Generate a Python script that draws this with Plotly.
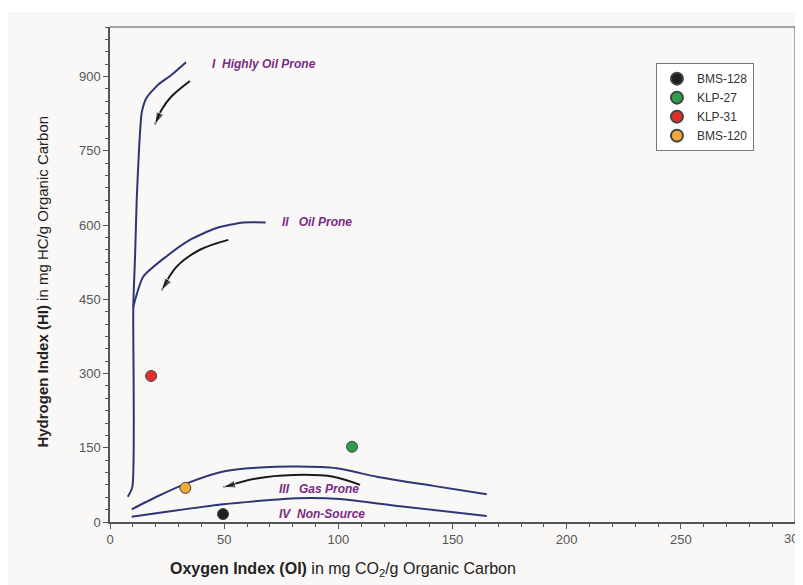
import plotly.graph_objects as go

# Kerogen type curves (OI, HI)
type1_x = [7.8, 9.8, 10.2, 11.0, 11.7, 12.8, 13.9, 16.0, 21.2, 26.3, 33.3]
type1_y = [51, 71, 435, 540, 651, 760, 827, 857, 884, 901, 929]
type2_x = [10.2, 14.6, 24.8, 35.0, 46.7, 58.4, 68.2]
type2_y = [435, 496, 537, 570, 594, 605, 605]
type3_x = [9.5, 20.4, 33.6, 49.6, 65.7, 81.8, 99.3, 116.8, 141.6, 165.0]
type3_y = [25.6, 51, 78, 102, 110, 112, 108.5, 91.6, 73, 56]
type4_x = [9.5, 24.8, 49.6, 81.8, 100.7, 127.0, 165.0]
type4_y = [10.7, 20.8, 36, 48, 46.5, 32, 12]

# Maturation arrows
arrow1_x = [35.0, 27.0, 22.6, 19.7]
arrow1_y = [891, 860, 833, 803]
arrow2_x = [51.8, 39.4, 29.2, 22.6]
arrow2_y = [570, 550, 516, 468]
arrow3_x = [109.5, 97.8, 80.3, 64.2, 49.6]
arrow3_y = [75, 91.6, 95, 88, 70]

# Samples
sample_names = ["BMS-128", "KLP-27", "KLP-31", "BMS-120"]
sample_oi = [49.5, 106.0, 18.0, 33.0]
sample_hi = [16, 152, 295, 69]
sample_colors = ["#1f1f24", "#2e9e48", "#e0302a", "#f2a93b"]

# Region labels
label_text = ["<b><i>I  Highly Oil Prone</i></b>", "<b><i>II   Oil Prone</i></b>",
              "<b><i>III   Gas Prone</i></b>", "<b><i>IV  Non-Source</i></b>"]
label_x = [43.8, 74.5, 73.0, 73.0]
label_y = [925, 607, 67, 17]

x_ticks = [0, 50, 100, 150, 200, 250, 300]
y_ticks = [0, 150, 300, 450, 600, 750, 900]

line_color = "#2f3676"
fig = go.Figure()
for xs, ys in [(type1_x, type1_y), (type2_x, type2_y), (type3_x, type3_y), (type4_x, type4_y)]:
    fig.add_trace(go.Scatter(x=xs, y=ys, mode="lines", line=dict(color=line_color, width=2, shape="spline", smoothing=0.6),
                             showlegend=False, hoverinfo="skip"))

for xs, ys in [(arrow1_x, arrow1_y), (arrow2_x, arrow2_y), (arrow3_x, arrow3_y)]:
    sizes = [0] * (len(xs) - 1) + [13]
    fig.add_trace(go.Scatter(x=xs, y=ys, mode="lines+markers",
                             line=dict(color="#1a1a1a", width=2, shape="spline"),
                             marker=dict(symbol="arrow", size=sizes, angleref="previous", color="#1a1a1a"),
                             showlegend=False, hoverinfo="skip"))

for n, xo, yh, c in zip(sample_names, sample_oi, sample_hi, sample_colors):
    fig.add_trace(go.Scatter(x=[xo], y=[yh], mode="markers", name=n,
                             marker=dict(size=11, color=c, line=dict(color="#444444", width=1))))

for t, xx, yy in zip(label_text, label_x, label_y):
    fig.add_annotation(x=xx, y=yy, text=t, showarrow=False, xanchor="left", yanchor="middle",
                       font=dict(family="Liberation Sans, Arial", size=12, color="#7a2a86"))

# last x tick label (runs off the page edge like the original)
fig.add_annotation(x=x_ticks[-1], y=0, yref="y", yshift=-16, text=str(x_ticks[-1]), showarrow=False,
                   xanchor="center", yanchor="middle", font=dict(family="Liberation Sans, Arial", size=13, color="#555555"))

fig.add_annotation(xref="paper", yref="paper", x=0.34, y=-0.095, xanchor="center", yanchor="middle",
                   text="<b>Oxygen Index (OI)</b> in mg CO<sub>2</sub>/g Organic Carbon", showarrow=False,
                   font=dict(family="Liberation Sans, Arial", size=16, color="#222222"))
fig.add_annotation(xref="paper", yref="paper", x=-0.099, y=0.486, xanchor="center", yanchor="middle",
                   text="<b>Hydrogen Index (HI)</b> in mg HC/g Organic Carbon", showarrow=False, textangle=-90,
                   font=dict(family="Liberation Sans, Arial", size=15, color="#222222"))

# top / right frame
fig.add_shape(type="line", xref="paper", yref="paper", x0=0, x1=1, y0=1, y1=1, line=dict(color="#8a8a8a", width=1.5))
fig.add_shape(type="line", xref="paper", yref="paper", x0=1, x1=1, y0=0, y1=1, line=dict(color="#8a8a8a", width=1.5))
# white band at top of page
fig.add_shape(type="rect", xref="paper", yref="paper", x0=-0.3, x1=1.1, y0=1 + 15/495, y1=1 + 19/495,
              line=dict(width=0), fillcolor="white", layer="below")

fig.update_layout(
    width=795, height=577,
    margin=dict(l=102, r=8, t=19, b=63),
    paper_bgcolor="#f9f8f6", plot_bgcolor="#f9f8f6",
    font=dict(family="Liberation Sans, Arial", size=13, color="#555555"),
    legend=dict(x=0.797, y=0.927, xanchor="left", yanchor="top", bgcolor="#ffffff",
                bordercolor="#777777", borderwidth=1, itemwidth=30, tracegroupgap=2,
                font=dict(size=12, color="#333333"), itemsizing="constant"),
    xaxis=dict(range=[0, 300], tickvals=x_ticks, ticks="outside", ticklen=5, tickcolor="#555555",
               showgrid=False, zeroline=False, showline=True, linecolor="#555555", linewidth=1.5,
               minor=dict(dtick=10, ticks="outside", ticklen=3, tickcolor="#555555"),
               tickfont=dict(size=13, color="#555555")),
    yaxis=dict(range=[0, 1000], tickvals=y_ticks, ticks="outside", ticklen=5, tickcolor="#555555",
               showgrid=False, zeroline=False, showline=True, linecolor="#555555", linewidth=1.5,
               minor=dict(dtick=25, ticks="outside", ticklen=3, tickcolor="#555555"),
               tickfont=dict(size=13, color="#555555")),
)

fig.write_html("out.html")
